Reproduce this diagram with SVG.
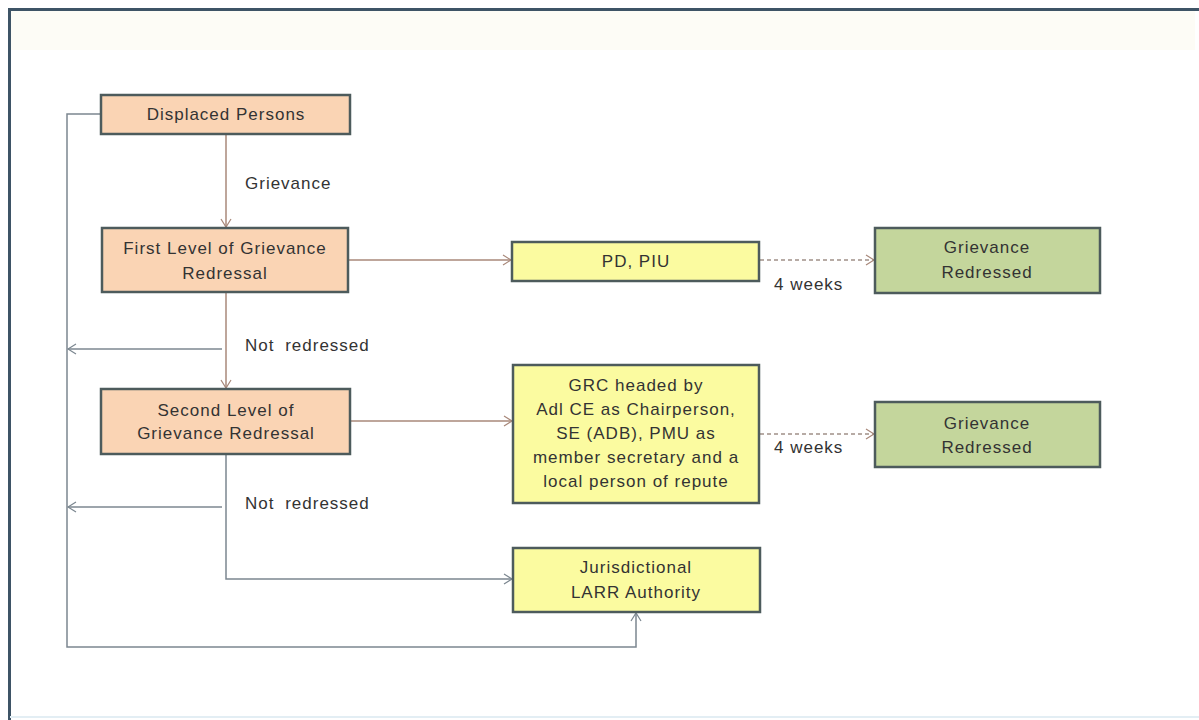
<svg xmlns="http://www.w3.org/2000/svg" width="1199" height="720" viewBox="0 0 1199 720">
<style>
.box{stroke:#4d5b5c;stroke-width:2.5}
.peach{fill:#fad4b4}
.yellow{fill:#fbfba0}
.green{fill:#c4d69c}
text{font-family:"Liberation Sans",Arial,sans-serif;font-size:17px;letter-spacing:1px;fill:#333;text-anchor:middle}
.lbl{text-anchor:start}
.c{fill:none;stroke-width:1.5}
.brown{stroke:#a8887a}
.grey{stroke:#7c8790}
.dash{stroke:#a09088;stroke-dasharray:4 3}
</style>
<defs>
<marker id="arrB" markerWidth="12" markerHeight="12" refX="10" refY="6" orient="auto" markerUnits="userSpaceOnUse">
<path d="M2,1 L10,6 L2,11" fill="none" stroke="#a8887a" stroke-width="1.2"/>
</marker>
<marker id="arrG" markerWidth="12" markerHeight="12" refX="10" refY="6" orient="auto" markerUnits="userSpaceOnUse">
<path d="M2,1 L10,6 L2,11" fill="none" stroke="#7c8790" stroke-width="1.2"/>
</marker>
</defs>
<rect x="0" y="0" width="1199" height="720" fill="#ffffff"/>
<rect x="10" y="10" width="1185" height="40" fill="#fdfcf6"/>
<line x1="8" y1="9.5" x2="1199" y2="9.5" stroke="#3e5466" stroke-width="3"/>
<line x1="9.5" y1="8" x2="9.5" y2="720" stroke="#3e5466" stroke-width="3"/>
<line x1="10" y1="717" x2="1199" y2="717" stroke="#e3eef4" stroke-width="2"/>

<g id="connectors">
<line class="c brown" x1="226" y1="134" x2="226" y2="227" marker-end="url(#arrB)"/>
<line class="c brown" x1="348" y1="260" x2="511" y2="260" marker-end="url(#arrB)"/>
<line class="c brown" x1="226" y1="292" x2="226" y2="388" marker-end="url(#arrB)"/>
<line class="c grey" x1="222" y1="349" x2="68" y2="349" marker-end="url(#arrG)"/>
<line class="c grey" x1="222" y1="507" x2="68" y2="507" marker-end="url(#arrG)"/>
<polyline class="c grey" points="226,454 226,579 512,579" marker-end="url(#arrG)"/>
<polyline class="c grey" points="101,114 67,114 67,647 636,647 636,613" marker-end="url(#arrG)"/>
<line class="c brown" x1="350" y1="421" x2="512" y2="421" marker-end="url(#arrB)"/>
<line class="c dash" x1="760" y1="260" x2="874" y2="260" marker-end="url(#arrB)"/>
<line class="c dash" x1="760" y1="434" x2="874" y2="434" marker-end="url(#arrB)"/>
<text class="lbl" x="245" y="189">Grievance</text>
<text class="lbl" x="245" y="351" word-spacing="5">Not redressed</text>
<text class="lbl" x="245" y="509" word-spacing="5">Not redressed</text>
<text class="lbl" x="774" y="290">4 weeks</text>
<text class="lbl" x="774" y="453">4 weeks</text>
</g>

<g id="displaced-persons">
<rect class="box peach" x="101" y="95" width="249" height="39"/>
<text x="226" y="120">Displaced Persons</text>
</g>
<g id="first-level">
<rect class="box peach" x="102" y="228" width="246" height="64"/>
<text x="225" y="254">First Level of Grievance</text>
<text x="225" y="279">Redressal</text>
</g>
<g id="second-level">
<rect class="box peach" x="101" y="389" width="249" height="65"/>
<text x="226" y="416">Second Level of</text>
<text x="226" y="439">Grievance Redressal</text>
</g>
<g id="pd-piu">
<rect class="box yellow" x="512" y="242" width="247" height="39"/>
<text x="636" y="267">PD, PIU</text>
</g>
<g id="grc">
<rect class="box yellow" x="513" y="365" width="246" height="138"/>
<text x="636" y="391">GRC headed by</text>
<text x="636" y="415">Adl CE as Chairperson,</text>
<text x="636" y="439">SE (ADB), PMU as</text>
<text x="636" y="463">member secretary and a</text>
<text x="636" y="487">local person of repute</text>
</g>
<g id="larr">
<rect class="box yellow" x="513" y="548" width="247" height="64"/>
<text x="636" y="573">Jurisdictional</text>
<text x="636" y="598">LARR Authority</text>
</g>
<g id="redressed-1">
<rect class="box green" x="875" y="228" width="225" height="65"/>
<text x="987" y="253">Grievance</text>
<text x="987" y="278">Redressed</text>
</g>
<g id="redressed-2">
<rect class="box green" x="875" y="402" width="225" height="65"/>
<text x="987" y="429">Grievance</text>
<text x="987" y="453">Redressed</text>
</g>
</svg>
